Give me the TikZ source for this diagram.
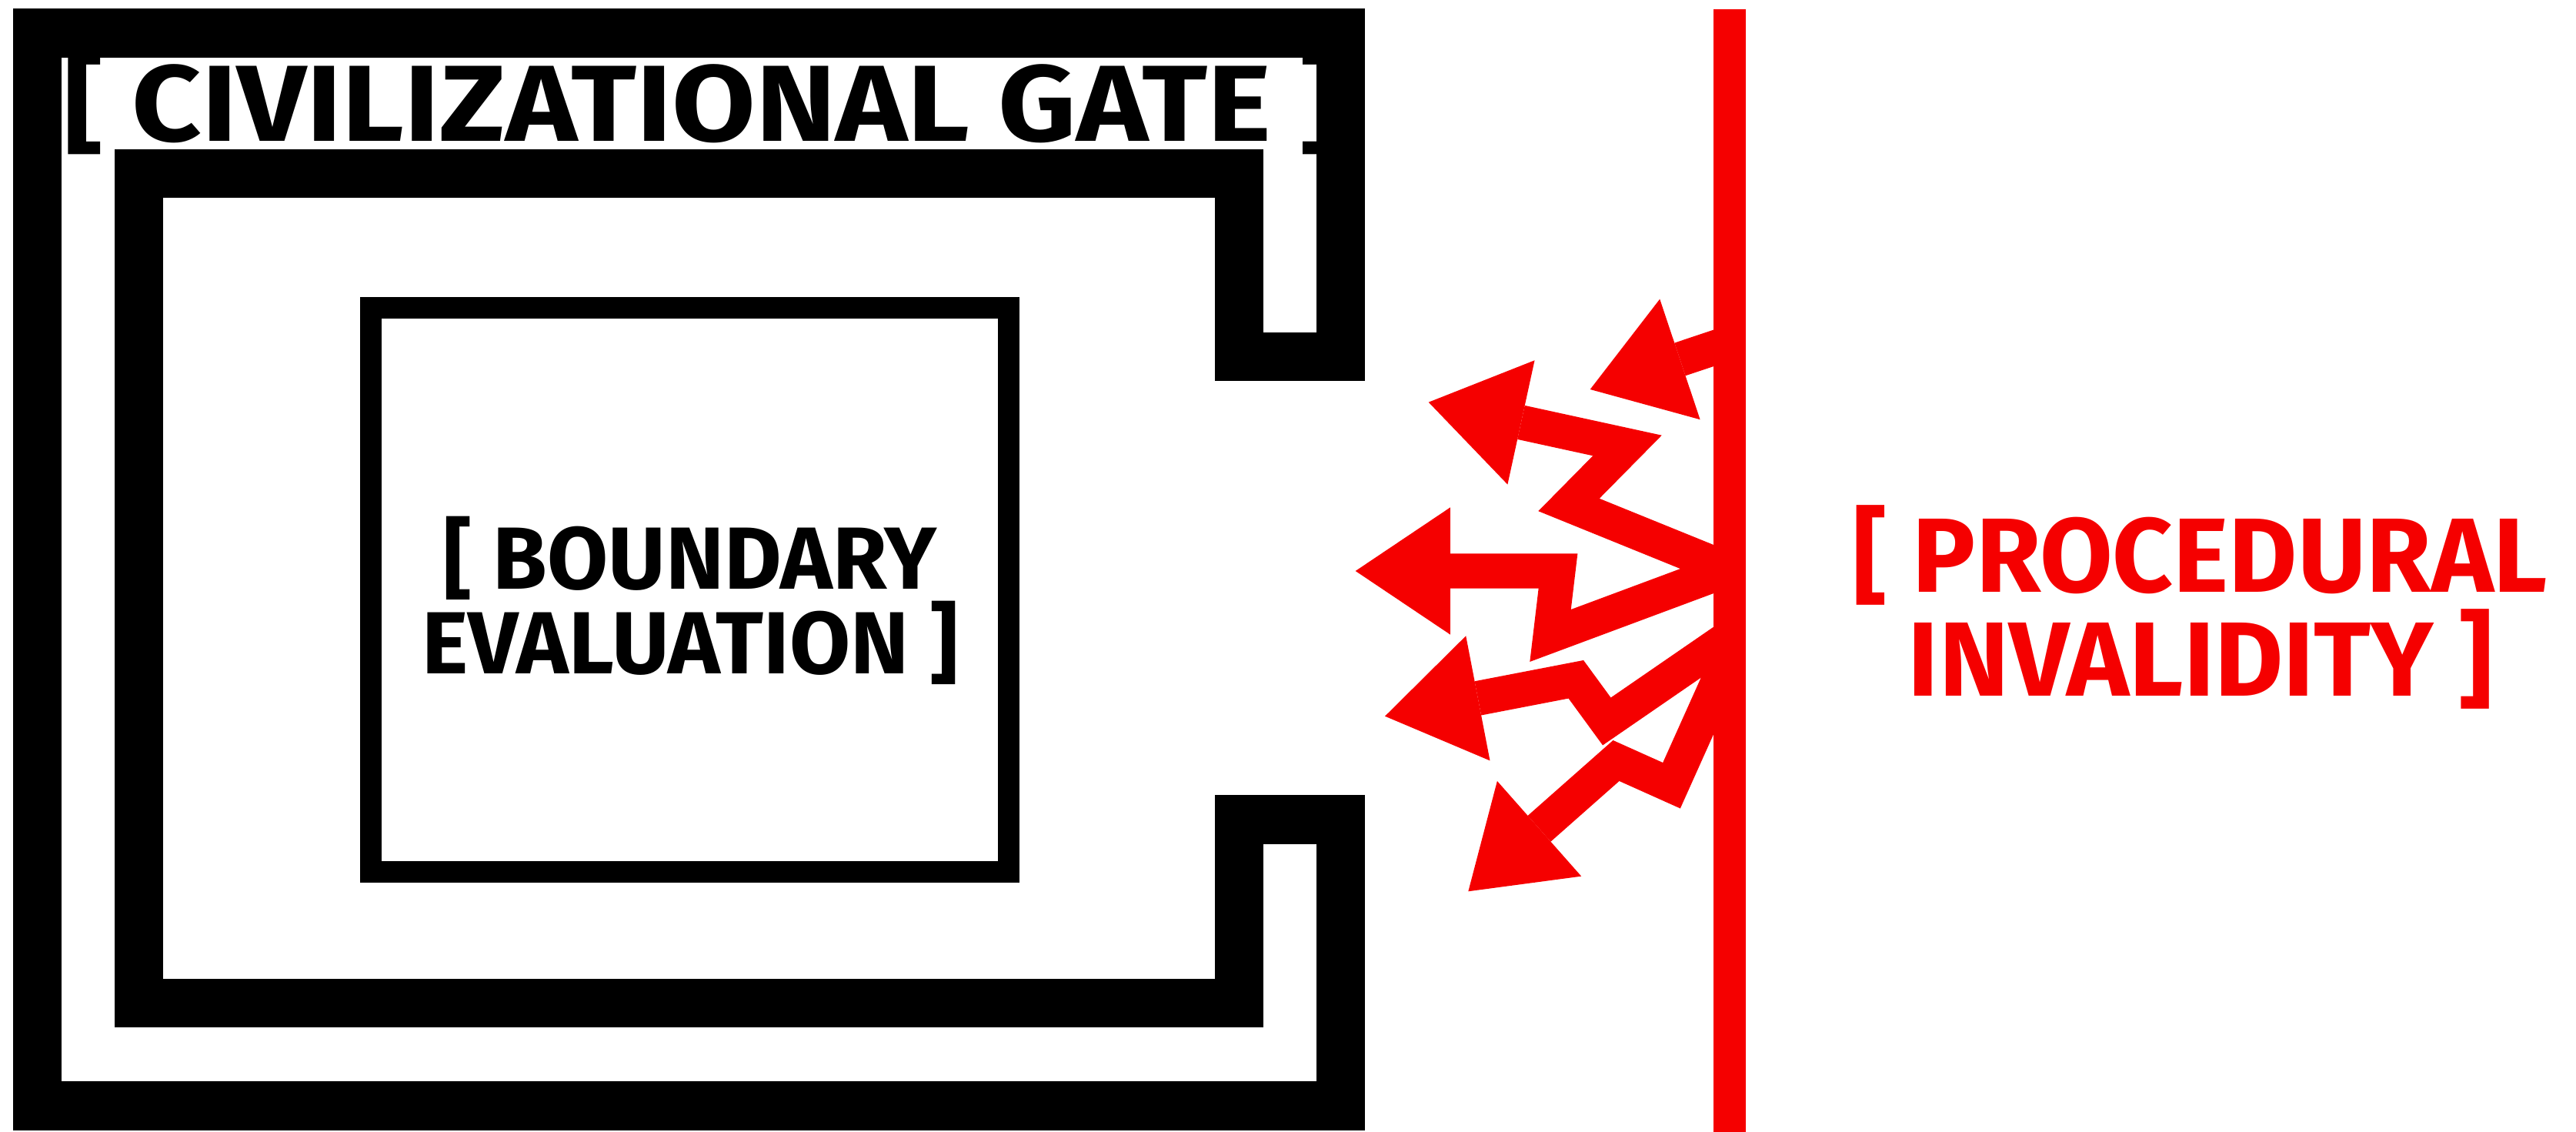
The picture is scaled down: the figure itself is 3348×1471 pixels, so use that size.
\documentclass[tikz,border=0pt]{standalone}
\usepackage{fontspec}
\usepackage{graphicx}
\newfontfamily\platefont{Fira Sans}
\usetikzlibrary{arrows.meta}
\definecolor{wallred}{RGB}{245,0,0}

\begin{document}
\begin{tikzpicture}[x=0.01cm,y=-0.01cm,
    gate/.style={draw=black,line width=0.63cm,line join=miter},
    evalbox/.style={draw=black,line width=0.28cm,inner sep=0pt,
      minimum width=8.29cm,minimum height=7.33cm},
    ray/.style={wallred,line width=0.45cm,line join=miter,
      -{Triangle[length=1.23cm,width=1.65cm,line width=0pt]}},
    lbl/.style={font=\platefont\bfseries,align=center,inner sep=0pt}]

  \useasboundingbox (0,0) rectangle (3348,1471);

  %,  Gate (double frame open to the right), 
  \draw[gate] (1610,463.5) -- (1610,225.5) -- (180.5,225.5) -- (180.5,1303.5)
    -- (1610,1303.5) -- (1610,1065) -- (1742,1065) -- (1742,1437)
    -- (48.5,1437) -- (48.5,43) -- (1742,43) -- (1742,463.5) -- cycle;
  \node[lbl,anchor=base,font=\platefont\bfseries\fontsize{40pt}{40pt}\selectfont]
    (gatelbl) at (912,184) {\scalebox{1.12}[1]{[ CIVILIZATIONAL GATE ]}};

  %,  Inner box, 
  \node[evalbox] (boundary) at (896.5,766.5) {};
  \node[lbl,font=\platefont\bfseries\fontsize{32.6pt}{31.3pt}\selectfont]
    (boundarylbl) at (897,780) {[ BOUNDARY\\EVALUATION ]};

  %,  Wall and deflected rays, 
  \coordinate (walltop) at (2248,12);
  \coordinate (wallbot) at (2248,1471);
  \coordinate (o1) at (2246,446);
  \coordinate (o2) at (2246,740);
  \coordinate (o4) at (2246,829);
  \coordinate (o5) at (2246,857);

  \draw[ray] (o1) -- (2066.7,506);
  \draw[ray] (o2) -- (2039,656) -- (2115,579) -- (1856.7,522.7);
  \draw[ray] (o2) -- (2015,826) -- (2025,742) -- (1761.7,742);
  \draw[ray] (o4) -- (2088.3,937.5) -- (2048.3,882.8) -- (1800,930.7);
  \draw[ray] (o5) -- (2172.5,1020.8) -- (2100.5,988.5) -- (1908.3,1158.3);

  \draw[wallred,line width=0.42cm] (walltop) -- (wallbot);

  \node[lbl,text=wallred,font=\platefont\bfseries\fontsize{39pt}{38.4pt}\selectfont]
    (invalidlbl) at (2860,789) {[ PROCEDURAL\\INVALIDITY ]};

\end{tikzpicture}
\end{document}
